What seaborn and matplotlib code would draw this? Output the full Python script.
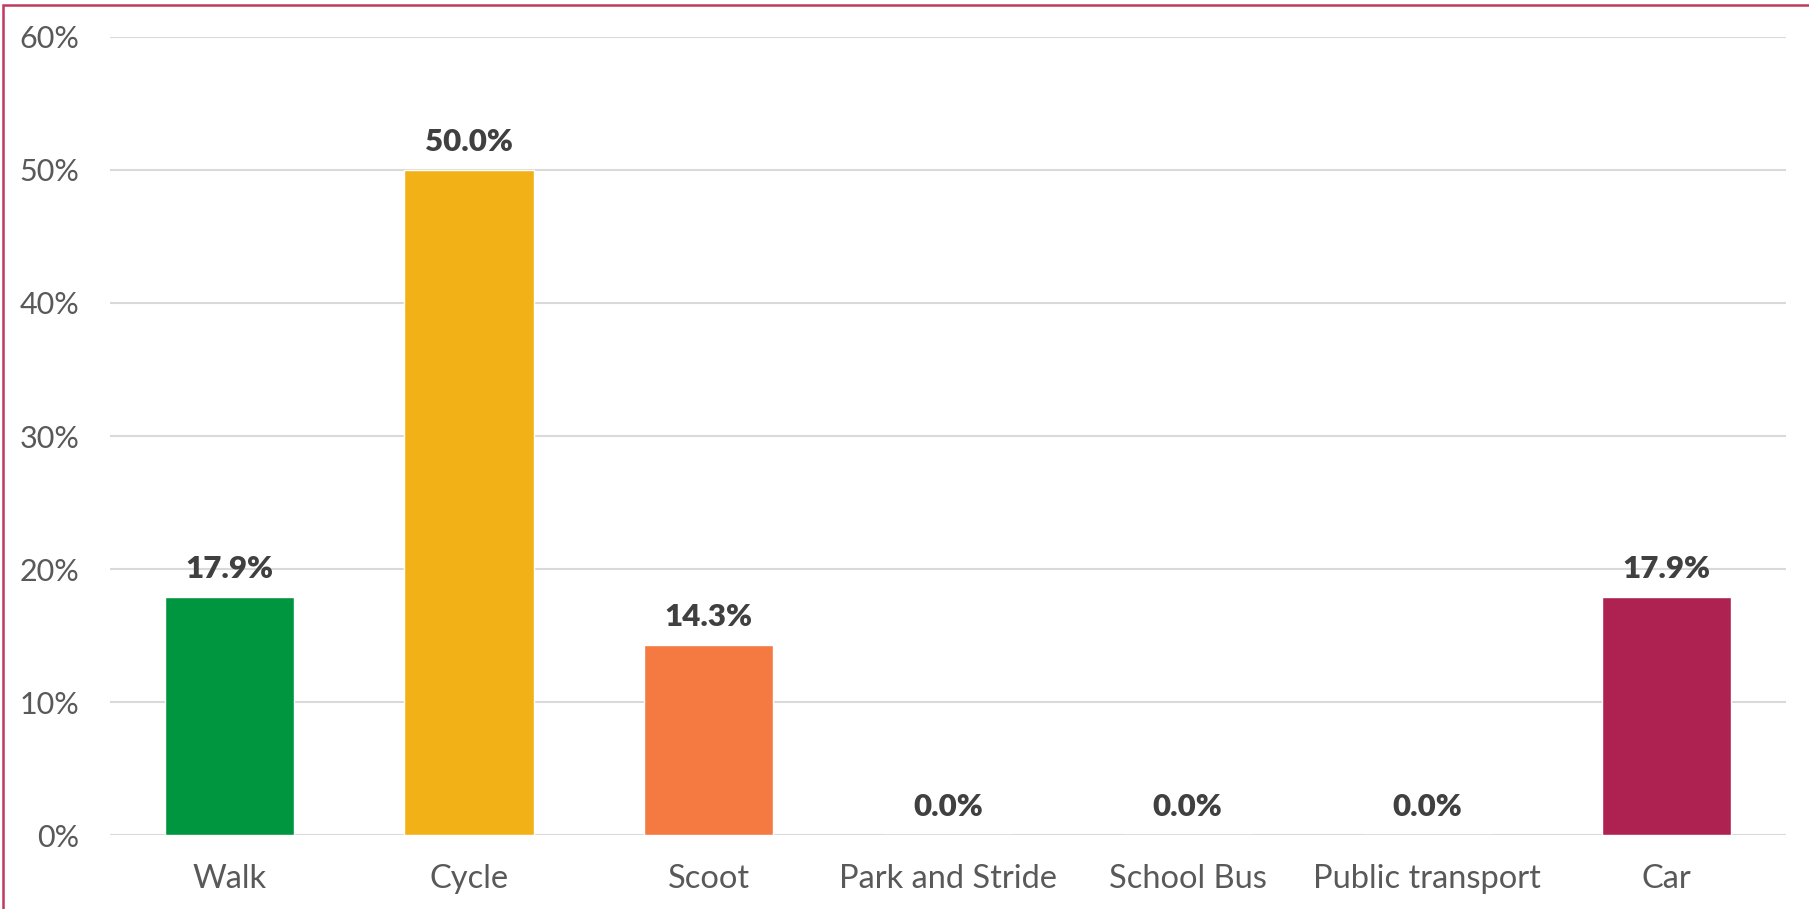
import matplotlib
matplotlib.use("Agg")
import matplotlib.pyplot as plt
import seaborn as sns
import pandas as pd
from matplotlib.patches import Rectangle

# Chart data
categories = ["Walk", "Cycle", "Scoot", "Park and Stride", "School Bus", "Public transport", "Car"]
shares = [17.9, 50.0, 14.3, 0.0, 0.0, 0.0, 17.9]
bar_colors = ["#009640", "#F2B217", "#F47A42", "#9E9E9E", "#9E9E9E", "#9E9E9E", "#AD2250"]
y_ticks = [0, 10, 20, 30, 40, 50, 60]

sns.set_theme(style="white")
plt.rcParams["font.family"] = ["Lato", "DejaVu Sans"]

df = pd.DataFrame({"mode": categories, "share": shares})

fig = plt.figure(figsize=(18.09, 9.09), dpi=100)
ax = fig.add_axes([0.0608, 0.0814, 0.9265, 0.8779])

sns.barplot(data=df, x="mode", y="share", hue="mode", palette=bar_colors,
            legend=False, width=0.54, saturation=1, ax=ax, zorder=3)

ax.set_ylim(0, 60)
ax.set_xlim(-0.5, len(categories) - 0.5)
ax.set_yticks(y_ticks)
ax.set_yticklabels([f"{t}%" for t in y_ticks])
ax.set_xlabel("")
ax.set_ylabel("")
ax.yaxis.grid(True, color="#D9D9D9", linewidth=1.5, zorder=0)
ax.xaxis.grid(False)
for side in ["top", "right", "left", "bottom"]:
    ax.spines[side].set_visible(False)
ax.axhline(0, color="#D9D9D9", linewidth=2, zorder=2)
ax.tick_params(axis="y", length=0, pad=22, labelsize=22, labelcolor="#595959")
ax.tick_params(axis="x", length=0, pad=21, labelsize=23.5, labelcolor="#595959")

# value labels above each bar
for i, v in enumerate(shares):
    ax.annotate(f"{v:.1f}%", (i, v), xytext=(0, 10), textcoords="offset points",
                ha="center", va="bottom", fontsize=22.5, fontweight="heavy", color="#404040")

# red frame around the chart (only top and left edges visible)
fig.patches.append(Rectangle((3 / 1809, -0.1), 1.2, 1 - 5 / 909 + 0.1,
                             transform=fig.transFigure, fill=False,
                             edgecolor="#C0395F", linewidth=1.8))

fig.savefig("out.png", dpi=100)
